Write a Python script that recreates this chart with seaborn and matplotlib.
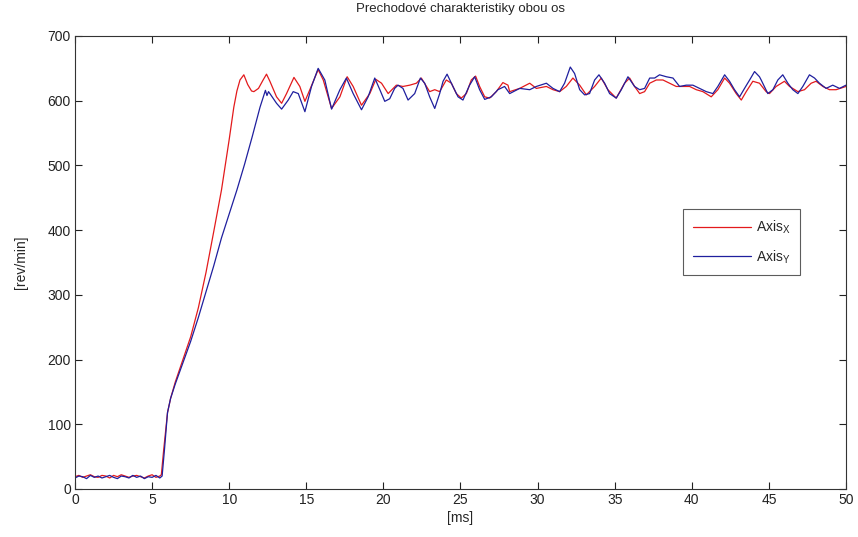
import matplotlib
matplotlib.use("Agg")
from matplotlib import pyplot as plt
import seaborn as sns
import pandas as pd

# Osa X (cervena)
t_x = [0.0, 0.25, 0.5, 0.75, 1.0, 1.25, 1.5, 1.75, 2.0, 2.25, 2.5, 2.75, 3.0, 3.25, 3.5, 3.75,
       4.0, 4.25, 4.5, 4.75, 5.0, 5.25, 5.5,
       5.6, 5.75, 6.0, 6.2, 6.5, 7.0, 7.5, 8.0, 8.5, 9.0, 9.5, 10.0, 10.3, 10.5, 10.7, 10.95,
       11.2, 11.45, 11.6, 11.9, 12.2, 12.42, 12.64,
       13.07, 13.40, 13.72, 14.2, 14.58, 14.91, 15.23, 15.77, 16.1, 16.64, 17.18, 17.65, 18.04,
       18.58, 19.12, 19.51, 19.88, 20.31,
       20.84, 21.27, 21.71, 22.14, 22.46, 22.79, 23.0, 23.33, 23.65, 24.08, 24.41, 24.73, 25.05,
       25.38, 25.7, 25.98, 26.24, 26.57, 26.89, 27.32, 27.75, 28.08,
       28.19, 28.84, 29.49, 29.92, 30.57, 31.0, 31.43, 31.86, 32.29, 32.73, 33.16, 33.7, 34.13,
       34.56, 35.1, 35.64, 35.97,
       36.29, 36.62, 36.94, 37.27, 37.7, 38.13, 38.56, 38.99, 39.43, 39.86, 40.29, 40.72, 41.26,
       41.69, 42.13, 42.45, 42.88, 43.21, 43.53, 43.96, 44.39,
       44.82, 45.04, 45.47, 46.01, 46.34, 46.88, 47.31, 47.74, 48.06, 48.5, 48.93, 49.36, 50.0]
rpm_x = [19, 21, 18, 20, 22, 19, 18, 21, 20, 17, 21, 19, 22, 20, 18, 20,
         21, 19, 17, 20, 22, 18, 20,
         22, 60, 118, 140, 165, 200, 235, 280, 335, 398, 462, 540, 590, 615, 632, 640,
         625, 615, 614, 619, 632, 641, 630,
         606, 596, 611, 636, 622, 599, 617, 648, 632, 588, 606, 637, 622,
         593, 611, 633, 627, 611,
         624, 622, 624, 627, 635, 622, 614, 617, 614, 632, 627, 611, 604,
         611, 632, 638, 622, 606, 604, 614, 628, 624,
         614, 619, 627, 619, 622, 617, 614, 622, 635, 624, 609, 622, 635,
         617, 604, 627, 635,
         622, 611, 614, 627, 632, 632, 627, 622, 622, 622, 617, 614, 606,
         617, 635, 627, 611, 601, 614, 630, 627,
         614, 611, 622, 630, 622, 614, 617, 627, 630, 622, 617, 617, 622]

# Osa Y (modra)
t_y = [0.0, 0.25, 0.5, 0.75, 1.0, 1.25, 1.5, 1.75, 2.0, 2.25, 2.5, 2.75, 3.0, 3.25, 3.5, 3.75,
       4.0, 4.25, 4.5, 4.75, 5.0, 5.25, 5.5,
       5.65, 5.8, 6.0, 6.2, 6.5, 7.0, 7.5, 8.0, 8.5, 9.0, 9.5, 10.0, 10.5, 11.0, 11.5, 12.0,
       12.2, 12.35, 12.45, 12.55, 12.64,
       13.07, 13.40, 13.83, 14.15, 14.48, 14.91, 15.34, 15.77, 16.2, 16.64, 17.18, 17.6, 18.04,
       18.58, 19.01, 19.44, 19.77, 20.09,
       20.41, 20.73, 20.95, 21.27, 21.6, 22.03, 22.4, 22.68, 23.0, 23.33, 23.65, 23.87, 24.13,
       24.51, 24.84, 25.16, 25.59, 25.92, 26.24, 26.57, 27.0, 27.43, 27.86, 28.19,
       28.84, 29.49, 29.92, 30.57, 31.0, 31.43, 31.75, 32.12, 32.4, 32.73, 33.05, 33.37, 33.7,
       33.98, 34.35, 34.67, 35.1, 35.43, 35.86,
       36.29, 36.62, 36.94, 37.27, 37.59, 37.91, 38.35, 38.78, 39.21, 39.64, 40.07, 40.51, 40.94,
       41.37, 41.69, 42.13, 42.45, 42.77, 43.1, 43.42, 43.75, 44.07, 44.39,
       44.5, 44.93, 45.26, 45.58, 45.9, 46.23, 46.55, 46.88, 47.2, 47.63, 47.96, 48.28, 48.71,
       49.14, 49.58, 50.0]
rpm_y = [17, 20, 19, 16, 21, 18, 20, 17, 19, 21, 18, 16, 20, 19, 17, 21,
         18, 20, 16, 19, 18, 21, 17,
         20, 60, 118, 140, 162, 195, 228, 265, 305, 345, 388, 425, 462, 502, 545, 590,
         605, 616, 608, 614, 611,
         596, 587, 601, 614, 611, 583, 622, 650, 632, 587, 617, 635, 611,
         586, 606, 635, 617, 599,
         603, 619, 624, 619, 601, 611, 635, 627, 606, 588, 611, 630, 641,
         622, 606, 601, 624, 637, 617, 602, 606, 617, 622, 611,
         619, 617, 622, 627, 619, 614, 627, 652, 642, 617, 609, 611, 632,
         640, 627, 611, 604, 617, 637,
         622, 617, 619, 635, 635, 640, 637, 635, 622, 624, 624, 619, 614,
         611, 622, 640, 630, 617, 606, 619, 632, 645, 637,
         632, 611, 617, 632, 640, 627, 617, 611, 622, 640, 635, 627, 619,
         624, 619, 624]

x_ticks = list(range(0, 51, 5))
y_ticks = list(range(0, 701, 100))

df_x = pd.DataFrame({"t": t_x, "rpm": rpm_x})
df_y = pd.DataFrame({"t": t_y, "rpm": rpm_y})

sns.set_style("ticks")
plt.rcParams["font.family"] = ["Liberation Sans", "DejaVu Sans"]
plt.rcParams["mathtext.fontset"] = "custom"
plt.rcParams["mathtext.rm"] = "Liberation Sans"

fig = plt.figure(figsize=(8.58, 5.37), dpi=100)
ax = fig.add_axes([0.0874, 0.0894, 0.8986, 0.8436])

sns.lineplot(data=df_x, x="t", y="rpm", ax=ax, color="#e31a1c", linewidth=0.9,
             estimator=None, sort=False, label=r"Axis$_\mathrm{X}$")
sns.lineplot(data=df_y, x="t", y="rpm", ax=ax, color="#1f1f9e", linewidth=0.9,
             estimator=None, sort=False, label=r"Axis$_\mathrm{Y}$")

ax.set_xlim(0, 50)
ax.set_ylim(0, 700)
ax.set_xticks(x_ticks)
ax.set_yticks(y_ticks)
ax.tick_params(direction="in", length=5, width=0.8, top=True, right=True,
               labelsize=10, colors="#222222", pad=3)
for s in ax.spines.values():
    s.set_visible(True)
    s.set_color("#333333")
    s.set_linewidth(0.8)

ax.set_title("Prechodové charakteristiky obou os", fontsize=9.5, pad=17)
ax.set_xlabel("[ms]", fontsize=10, labelpad=3)
ax.set_ylabel("[rev/min]", fontsize=10, labelpad=14)

leg = ax.legend(loc="upper left", bbox_to_anchor=(0.78, 0.634), fontsize=10,
                frameon=True, fancybox=False, handlelength=4.2, borderpad=0.7,
                labelspacing=0.9, handletextpad=0.3)
leg.get_frame().set_edgecolor("#333333")
leg.get_frame().set_linewidth(0.8)

fig.savefig("out.png", dpi=100)
